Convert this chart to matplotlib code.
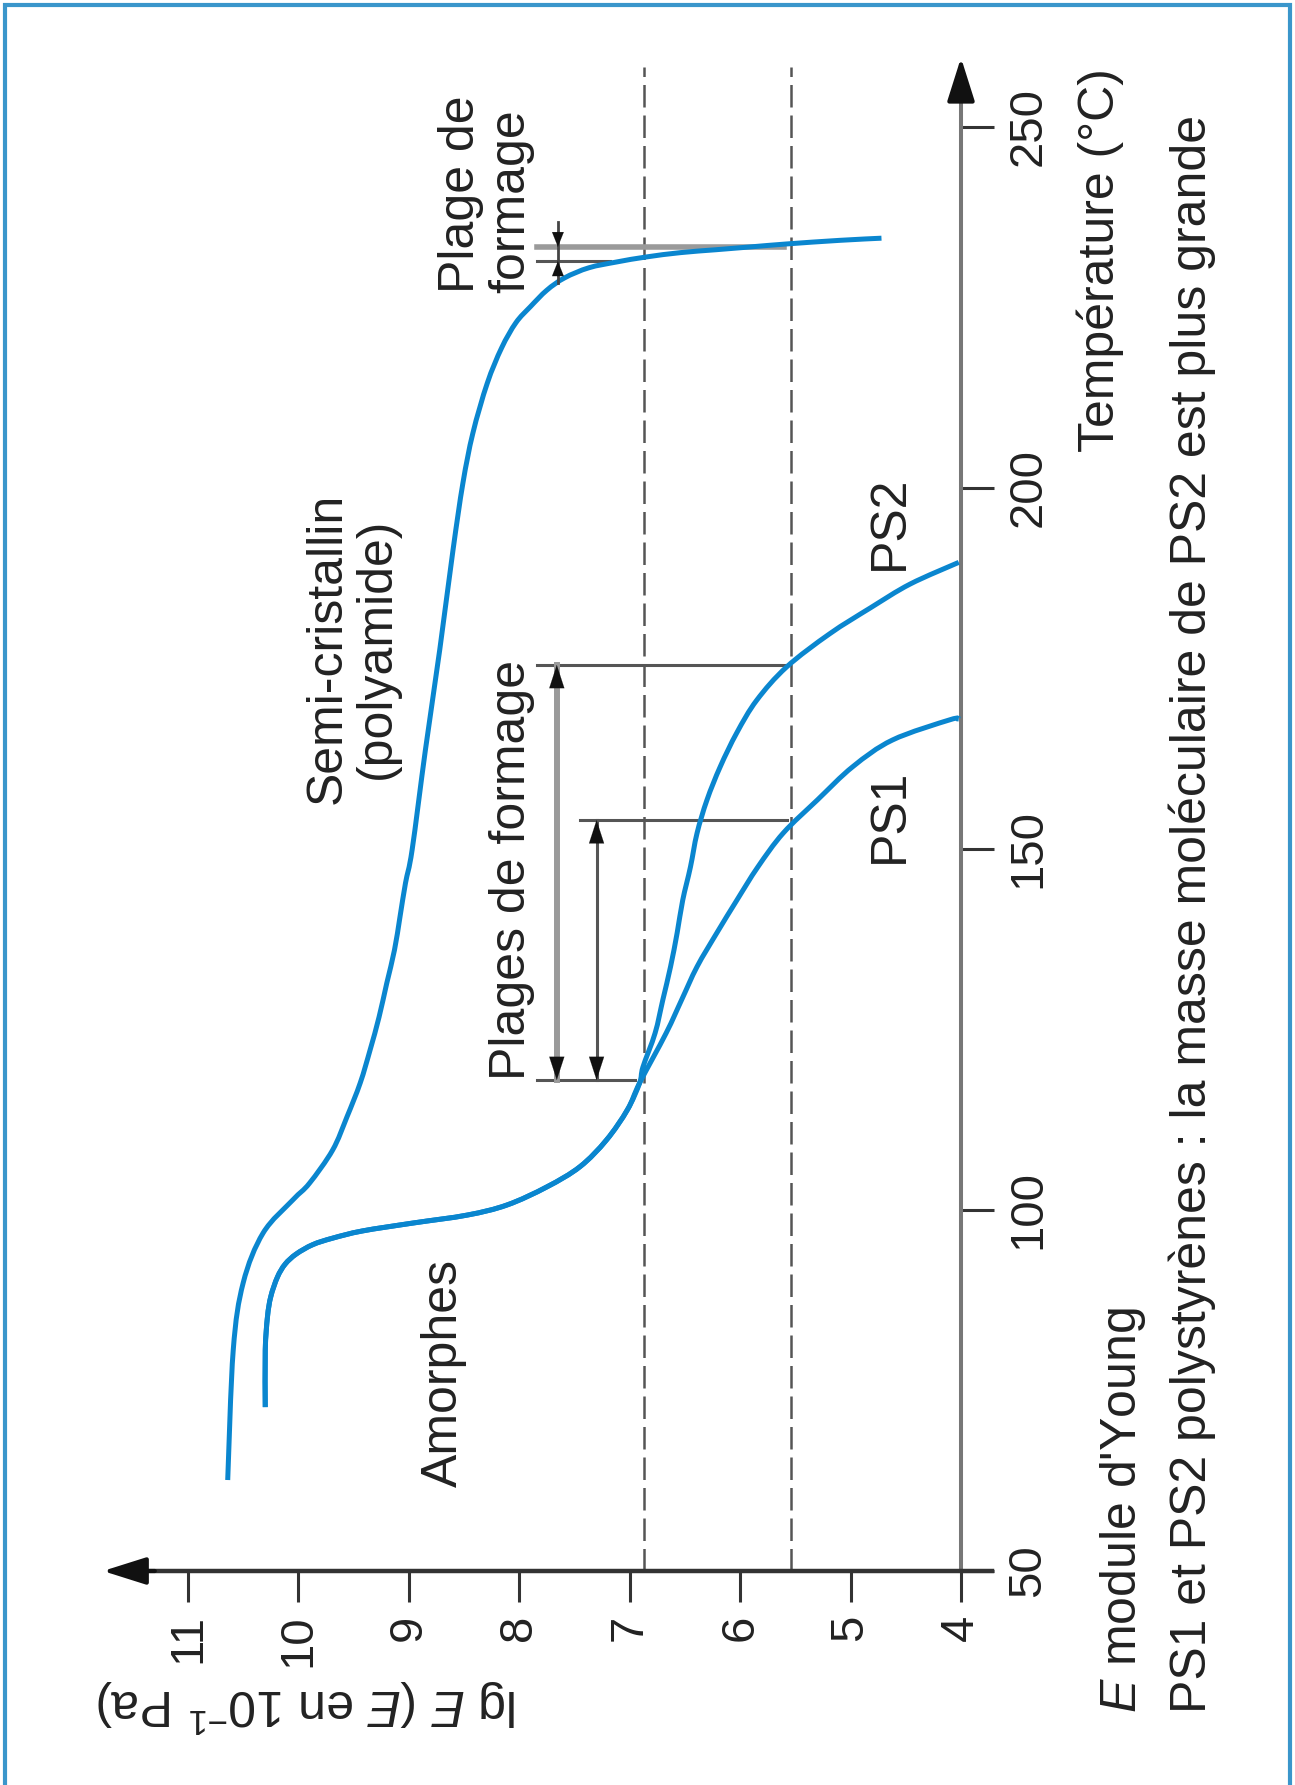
import matplotlib
matplotlib.use("Agg")
import matplotlib.pyplot as plt
from matplotlib.patches import Rectangle, PathPatch
from matplotlib.path import Path

plt.rcParams['font.family'] = ['Liberation Sans', 'DejaVu Sans']
plt.rcParams['mathtext.fontset'] = 'custom'
plt.rcParams['mathtext.rm'] = 'Liberation Sans'
plt.rcParams['mathtext.it'] = 'Liberation Sans:italic'

semi_T = [62.6, 80.6, 89.9, 96.8, 101.4, 103.7, 108.3, 112.9, 117.6, 122.2, 126.7, 131.4,
          136.0, 140.6, 145.3, 149.9, 163.7, 177.6, 191.4, 200.7, 207.6, 214.5, 219.4,
          222.9, 225.1, 227.4, 229.1, 230.5, 231.3, 232.0, 232.6, 233.0, 233.4, 233.8,
          234.3, 234.6]
semi_E = [10.64, 10.59, 10.50, 10.32, 10.05, 9.90, 9.69, 9.56, 9.44, 9.35, 9.27, 9.20,
          9.13, 9.08, 9.03, 8.97, 8.85, 8.72, 8.60, 8.51, 8.42, 8.29, 8.16,
          8.03, 7.90, 7.75, 7.59, 7.37, 7.12, 6.85, 6.54, 6.22, 5.90, 5.58,
          5.10, 4.72]

# amorphes : partie commune PS1 / PS2
amorph_T = [72.7, 80.6, 85.2, 88.0, 90.7, 92.5, 93.9, 95.2, 96.1, 97.1, 98.2, 99.3, 100.7,
            103.2, 106.0, 109.7, 113.9, 117.6]
amorph_E = [10.30, 10.30, 10.28, 10.25, 10.19, 10.12, 10.02, 9.87, 9.69, 9.42, 8.96, 8.47,
            8.11, 7.75, 7.45, 7.21, 7.02, 6.91]

ps1_T = [124.5, 129.1, 133.7, 138.4, 142.9, 147.5, 152.2, 156.8, 161.4, 165.1, 167.9, 168.0]
ps1_E = [6.67, 6.53, 6.39, 6.21, 6.03, 5.84, 5.61, 5.30, 4.98, 4.62, 4.10, 4.02]

ps2_T = [119.8, 124.5, 129.1, 133.7, 138.4, 142.9, 147.5, 152.2, 156.8, 161.4, 166.1,
         170.6, 175.2, 179.8, 183.4, 186.7, 189.7]
ps2_E = [6.88, 6.77, 6.70, 6.63, 6.57, 6.52, 6.45, 6.39, 6.30, 6.18, 6.03,
         5.85, 5.58, 5.19, 4.82, 4.46, 4.02]

dashed_E = [6.87, 5.54]
E_ticks = [11, 10, 9, 8, 7, 6, 5, 4]
T_ticks = [50, 100, 150, 200, 250]

# plages de formage (bornes en °C) et lignes de rappel
range_lo = [118.0, 118.0, 231.4]
range_hi = [175.5, 154.0, 233.4]
range_E = [7.66, 7.30, 7.65]
guide_T = [175.5, 154.0, 118.0, 233.4, 231.4]
guide_from = [7.84, 7.45, 7.84, 7.84, 7.84]
guide_to = [5.58, 5.58, 6.95, 5.60, 7.18]

blue = '#0a86cf'
dark = '#333333'


def smooth(xs, ys):
    # courbe de Bezier passant par les points lus (Catmull-Rom)
    pts = list(zip(xs, ys))
    n = len(pts)
    verts = [pts[0]]
    codes = [Path.MOVETO]
    for i in range(n - 1):
        p0 = pts[i - 1] if i > 0 else pts[i]
        p1, p2 = pts[i], pts[i + 1]
        p3 = pts[i + 2] if i + 2 < n else pts[i + 1]
        c1 = (p1[0] + (p2[0] - p0[0]) / 6, p1[1] + (p2[1] - p0[1]) / 6)
        c2 = (p2[0] - (p3[0] - p1[0]) / 6, p2[1] - (p3[1] - p1[1]) / 6)
        verts += [c1, c2, p2]
        codes += [Path.CURVE4] * 3
    return Path(verts, codes)


fig = plt.figure(figsize=(12.95, 17.85), dpi=100)
ax = fig.add_axes([0, 0, 1, 1])
ax.patch.set_visible(False)
ax.set_xlim(12.702, 0.9755)
ax.set_ylim(20.36, 267.59)

# axes
for s in ['top', 'left']:
    ax.spines[s].set_visible(False)
ax.spines['bottom'].set_position(('data', 50))
ax.spines['bottom'].set_bounds(3.72, 11.5)
ax.spines['bottom'].set_linewidth(3.2)
ax.spines['bottom'].set_color(dark)
ax.spines['right'].set_position(('data', 4))
ax.spines['right'].set_bounds(50, 256)
ax.spines['right'].set_linewidth(2.9)
ax.spines['right'].set_color('#777777')

ax.set_xticks(E_ticks)
ax.set_xticklabels([str(v) for v in E_ticks], rotation=90)
ax.set_yticks(T_ticks)
ax.yaxis.tick_right()
ax.set_yticklabels([str(v) for v in T_ticks], rotation=90, va='center')
ax.tick_params(axis='x', direction='out', length=22.3, width=2.2, pad=9, labelsize=34,
               color=dark, labelcolor='#222222')
ax.tick_params(axis='y', direction='out', length=23.8, width=2.2, pad=9, labelsize=34,
               color=dark, labelcolor='#222222')

head = dict(arrowstyle='-|>,head_length=1.33,head_width=0.42', mutation_scale=20,
            color='#111111', lw=3, shrinkA=0, shrinkB=0)
ax.annotate('', xy=(11.77, 50), xytext=(11.3, 50), arrowprops=head)
ax.annotate('', xy=(4, 259.6), xytext=(4, 254.5), arrowprops=head)

# lignes pointillées
ax.vlines(dashed_E, 50, 258.3, colors='#555555', lw=1.8, linestyles=(0, (9, 3.2)), zorder=1)

# lignes de rappel
for i, t in enumerate(guide_T):
    if i == 3:
        ax.plot([guide_from[i], guide_to[i]], [t, t], color='#9a9a9a', lw=4, zorder=2)
    else:
        ax.plot([guide_from[i], guide_to[i]], [t, t], color='#555555', lw=2.2, zorder=2)

# courbes
for xs, ys in [(semi_E, semi_T), (amorph_E + ps1_E, amorph_T + ps1_T),
               (amorph_E + ps2_E, amorph_T + ps2_T)]:
    ax.add_patch(PathPatch(smooth(xs, ys), fill=False, ec=blue, lw=3.6, zorder=3,
                           capstyle='butt'))

# flèches des plages de formage
small = dict(arrowstyle='-|>,head_length=1.66,head_width=0.54', mutation_scale=10,
             color='#111111', lw=0.1, shrinkA=0, shrinkB=0)
ax.plot([range_E[0]] * 2, [range_lo[0], range_hi[0]], color='#9a9a9a', lw=4.3, zorder=2)
ax.plot([range_E[1]] * 2, [range_lo[1], range_hi[1]], color='#555555', lw=2.2, zorder=2)
for i in range(2):
    ax.annotate('', xy=(range_E[i], range_hi[i]), xytext=(range_E[i], range_hi[i] - 3.2),
                arrowprops=small, zorder=4)
    ax.annotate('', xy=(range_E[i], range_lo[i]), xytext=(range_E[i], range_lo[i] + 3.2),
                arrowprops=small, zorder=4)
ax.plot([range_E[2]] * 2, [range_lo[2] - 3.0, range_hi[2] + 3.4], color='#444444', lw=2,
        zorder=4)
tiny = dict(arrowstyle='-|>,head_length=1.5,head_width=0.6', mutation_scale=7,
            color='#111111', lw=0.1, shrinkA=0, shrinkB=0)
ax.annotate('', xy=(range_E[2], range_hi[2]), xytext=(range_E[2], range_hi[2] + 2.2),
            arrowprops=tiny, zorder=5)
ax.annotate('', xy=(range_E[2], range_lo[2]), xytext=(range_E[2], range_lo[2] - 2.2),
            arrowprops=tiny, zorder=5)

# textes
fs = 36
kw = dict(rotation=90, rotation_mode='anchor', ha='left', va='center', fontsize=fs,
          color='#222222', multialignment='left')
ax.text(9.51, 177.8, 'Semi-cristallin\n(polyamide)', rotation=90, ha='center', va='center',
        fontsize=fs, color='#222222', multialignment='center', linespacing=1.1)
ax.text(8.30, 227.0, 'Plage de\nformage', linespacing=1.1, **kw)
ax.text(8.07, 118.0, 'Plages de formage', **kw)
ax.text(8.68, 61.6, 'Amorphes', **kw)
ax.text(4.64, 188.6, 'PS2', **kw)
ax.text(4.64, 148.1, 'PS1', **kw)
ax.text(2.74, 205.0, 'Température (°C)', **kw)
ax.text(2.53, 30.3, "$\\it{E}$ module d'Young", **kw)
ax.text(1.91, 30.3, 'PS1 et PS2 polystyrènes : la masse moléculaire de PS2 est plus grande',
        **kw)
ax.text(9.92, 31.3, 'lg $\\it{E}$ ($\\it{E}$ en 10$^{-1}$ Pa)', rotation=180, ha='center',
        va='center', fontsize=fs, color='#222222')

# cadre
fig.add_artist(Rectangle((0.0039, -0.01), 0.9922, 1.0072, transform=fig.transFigure,
                         fill=False, lw=3, ec='#3a96cb'))

fig.savefig('out.png', dpi=100)
